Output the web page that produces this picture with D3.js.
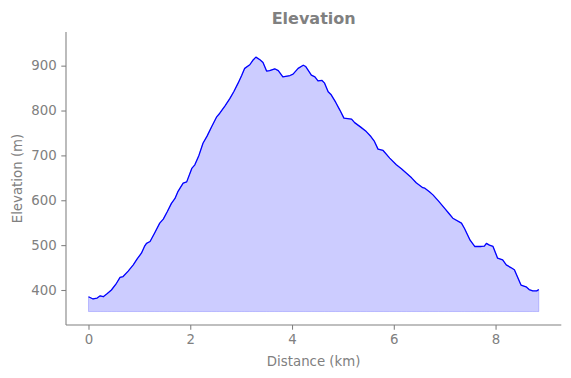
<!DOCTYPE html>
<html>
<head>
<meta charset="utf-8">
<script src="https://cdn.jsdelivr.net/npm/d3@7"></script>
<style>
  html, body { margin: 0; padding: 0; background: #fff; }
  svg { display: block; font-family: "DejaVu Sans", sans-serif; }
</style>
</head>
<body>
<svg id="chart" width="571" height="378"></svg>
<script>
const distKm = [0.00,0.09,0.17,0.23,0.29,0.37,0.45,0.55,0.62,0.68,0.78,0.88,0.96,1.04,1.10,1.14,1.21,1.30,1.40,1.47,1.55,1.63,1.70,1.76,1.86,1.93,2.03,2.09,2.17,2.25,2.33,2.42,2.52,2.58,2.68,2.78,2.86,2.94,3.01,3.07,3.17,3.23,3.29,3.37,3.43,3.50,3.56,3.66,3.73,3.82,3.96,4.02,4.12,4.22,4.27,4.38,4.45,4.51,4.59,4.64,4.71,4.77,4.86,4.94,5.02,5.17,5.23,5.35,5.46,5.55,5.62,5.69,5.79,5.92,6.05,6.15,6.25,6.35,6.44,6.57,6.61,6.70,6.77,6.88,7.00,7.08,7.16,7.33,7.39,7.50,7.59,7.72,7.78,7.82,7.88,7.95,8.04,8.14,8.21,8.30,8.37,8.50,8.60,8.66,8.73,8.81,8.85];
const elevM = [385,380,382,387,385,392,400,415,428,430,442,456,470,482,497,504,508,527,549,558,575,593,604,620,638,641,671,679,700,727,743,764,786,794,810,827,843,861,878,894,902,912,919,913,907,888,889,893,889,875,878,881,894,901,898,879,875,866,867,861,842,835,818,801,783,781,773,763,753,742,731,714,711,694,679,670,660,650,639,628,627,619,612,598,582,571,560,549,537,511,497,497,498,504,500,497,471,467,456,450,445,411,407,401,398,398,401];
const fillBase = 352;
const xTicks = [0, 2, 4, 6, 8];
const yTicks = [400, 500, 600, 700, 800, 900];
const titleText = "Elevation";
const xLabel = "Distance (km)";
const yLabel = "Elevation (m)";

const data = distKm.map((d, i) => ({ x: d, y: elevM[i] }));

const mLeft = 66, mRight = 561.3, mTop = 32, mBottom = 325;
const gray = "#808080";

const x = d3.scaleLinear().domain([-0.442, 9.292]).range([mLeft, mRight]);
const y = d3.scaleLinear().domain([322, 975]).range([mBottom, mTop]);

const svg = d3.select("#chart");

svg.append("path")
  .datum(data)
  .attr("d", d3.area().x(d => x(d.x)).y0(y(fillBase)).y1(d => y(d.y)))
  .attr("fill", "rgba(0,0,255,0.2)")
  .attr("stroke", "rgba(0,0,255,0.2)")
  .attr("stroke-width", 1);

svg.append("path")
  .datum(data)
  .attr("d", d3.line().x(d => x(d.x)).y(d => y(d.y)))
  .attr("fill", "none")
  .attr("stroke", "#0000ff")
  .attr("stroke-width", 1.3)
  .attr("stroke-linejoin", "round");

const xAxis = d3.axisBottom(x).tickValues(xTicks).tickFormat(d3.format("d")).tickSize(4.7).tickPadding(4.5);
const yAxis = d3.axisLeft(y).tickValues(yTicks).tickFormat(d3.format("d")).tickSize(4.7).tickPadding(4.5);

const gx = svg.append("g").attr("transform", `translate(0,${mBottom})`).call(xAxis);
const gy = svg.append("g").attr("transform", `translate(${mLeft},0)`).call(yAxis);

[gx, gy].forEach(g => {
  g.select(".domain").remove();
  g.selectAll(".tick line").attr("stroke", gray).attr("stroke-width", 1.07);
  g.selectAll(".tick text").attr("fill", gray).attr("font-size", "13.33px")
    .attr("font-family", "DejaVu Sans, sans-serif");
});

svg.append("line").attr("x1", mLeft).attr("x2", mLeft).attr("y1", mTop).attr("y2", mBottom)
  .attr("stroke", gray).attr("stroke-width", 1.07);
svg.append("line").attr("x1", mLeft).attr("x2", mRight).attr("y1", mBottom).attr("y2", mBottom)
  .attr("stroke", gray).attr("stroke-width", 1.07);

svg.append("text")
  .attr("x", (mLeft + mRight) / 2).attr("y", 24)
  .attr("text-anchor", "middle")
  .attr("font-size", "16px").attr("font-weight", "bold")
  .attr("fill", gray)
  .text(titleText);

svg.append("text")
  .attr("x", (mLeft + mRight) / 2).attr("y", 366)
  .attr("text-anchor", "middle")
  .attr("font-size", "13.33px")
  .attr("fill", gray)
  .text(xLabel);

svg.append("text")
  .attr("transform", `translate(22,${(mTop + mBottom) / 2}) rotate(-90)`)
  .attr("text-anchor", "middle")
  .attr("font-size", "13.33px")
  .attr("fill", gray)
  .text(yLabel);
</script>
</body>
</html>
